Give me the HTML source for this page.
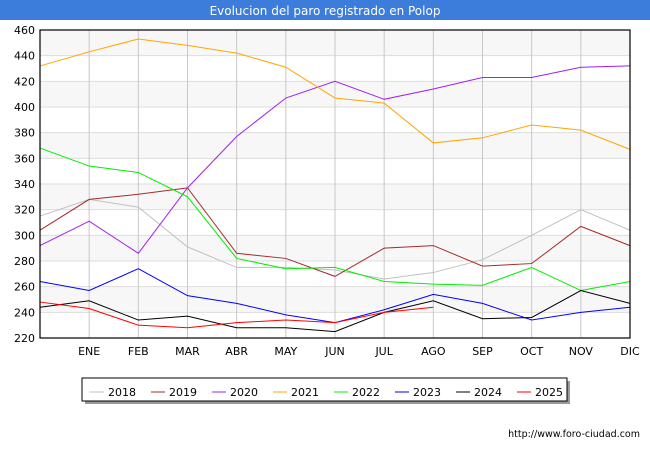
<!DOCTYPE html>
<html><head><meta charset="utf-8"><style>
body{margin:0;width:650px;height:450px;background:#fff;font-family:"DejaVu Sans","Liberation Sans",sans-serif;overflow:hidden}
</style></head><body>
<svg width="650" height="450" xmlns="http://www.w3.org/2000/svg" font-family="DejaVu Sans, Liberation Sans, sans-serif">
<rect x="0" y="0" width="650" height="20" fill="#3c7ddb"/>
<text x="325" y="15" text-anchor="middle" fill="#fff" font-size="12">Evolucion del paro registrado en Polop</text>
<g id="bands"></g><g id="grid"></g><g id="lines"></g>
<rect x="40" y="30" width="590" height="308" fill="none" stroke="#000" stroke-width="1.2"/>
<g id="axes" font-size="11" fill="#000"></g>
<rect x="85" y="381" width="485" height="23" fill="#999"/>
<rect x="82" y="378" width="485" height="23" fill="#fff" stroke="#000"/>
<g id="legend" font-size="11"></g>
<text x="640" y="437" text-anchor="end" font-size="9.5">http://www.foro-ciudad.com</text>
</svg>
<script>
const months=["","ENE","FEB","MAR","ABR","MAY","JUN","JUL","AGO","SEP","OCT","NOV","DIC"];
const yTicks=[220,240,260,280,300,320,340,360,380,400,420,440,460];
const seriesNames=["2018","2019","2020","2021","2022","2023","2024","2025"];
const seriesColors=["#c0c0c0","#a52a2a","#a020f0","#ffa500","#00ee00","#0000ff","#000000","#ff0000"];
const s2018=[315,328,322,291,275,275,273,266,271,281,300,320,304];
const s2019=[304,328,332,337,286,282,268,290,292,276,278,307,292];
const s2020=[292,311,286,337,377,407,420,406,414,423,423,431,432];
const s2021=[432,443,453,448,442,431,407,403,372,376,386,382,367];
const s2022=[368,354,349,330,282,274,275,264,262,261,275,257,264];
const s2023=[264,257,274,253,247,238,232,242,254,247,234,240,244];
const s2024=[244,249,234,237,228,228,225,240,249,235,236,257,247];
const s2025=[248,243,230,228,232,234,232,240,244];
const allSeries=[s2018,s2019,s2020,s2021,s2022,s2023,s2024,s2025];
const NS="http://www.w3.org/2000/svg";
const x=i=>40+i*(590/12);
const y=v=>338-(v-220)*308/240;
function mk(t,p,a){const e=document.createElementNS(NS,t);for(const k in a)e.setAttribute(k,a[k]);document.getElementById(p).appendChild(e);return e;}
for(let i=0;i<yTicks.length-1;i++){
  if(i%2==1){const r=mk('rect','bands',{x:40,y:y(yTicks[i+1]),width:590,height:y(yTicks[i])-y(yTicks[i+1]),fill:'#f7f7f7'});
  
  }
}
yTicks.forEach(v=>{
  const l=mk('line','grid',{x1:40,x2:630,y1:y(v),y2:y(v),stroke:'#dddddd'});
  
  
  const t=mk('text','axes',{x:35,y:y(v)+4,'text-anchor':'end'});t.textContent=v;
  
  
});
months.forEach((m,i)=>{
  const l=mk('line','grid',{x1:x(i),x2:x(i),y1:30,y2:338,stroke:'#c8c8c8'});
  
  
  if(m){const t=mk('text','axes',{x:x(i),y:355,'text-anchor':'middle'});t.textContent=m;
  
  }
});
allSeries.forEach((s,k)=>{
  const p=mk('polyline','lines',{points:s.map((v,i)=>x(i)+','+y(v)).join(' '),fill:'none',stroke:seriesColors[k],'stroke-width':1});
  
  
  const lx=90+k*61;
  const ll=mk('line','legend',{x1:lx,x2:lx+14,y1:392,y2:392,stroke:seriesColors[k]});
  
  
  const lt=mk('text','legend',{x:lx+18,y:396});lt.textContent=seriesNames[k];
  
  
});
</script>
</body></html>
